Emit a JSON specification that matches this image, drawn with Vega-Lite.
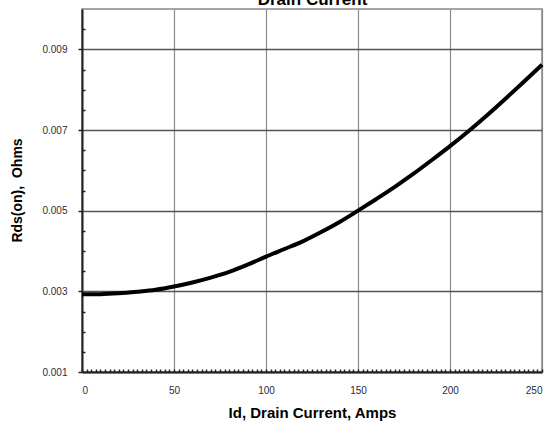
{
  "$schema": "https://vega.github.io/schema/vega-lite/v6.json",
  "autosize": "none",
  "width": 460,
  "height": 363,
  "padding": {"left": 82, "top": 9, "right": 11, "bottom": 58},
  "background": "white",
  "config": {
    "view": {"stroke": "#888", "strokeWidth": 1.5},
    "axis": {
      "labelFont": "Liberation Sans",
      "titleFont": "Liberation Sans",
      "labelColor": "#2a2a40",
      "titleColor": "#000"
    }
  },
  "data": {
    "values": [
      {"id": 0, "rds": 0.00293},
      {"id": 10, "rds": 0.00293},
      {"id": 20, "rds": 0.00295},
      {"id": 30, "rds": 0.00299},
      {"id": 40, "rds": 0.00304},
      {"id": 50, "rds": 0.00312},
      {"id": 60, "rds": 0.00322},
      {"id": 70, "rds": 0.00334},
      {"id": 80, "rds": 0.00348},
      {"id": 90, "rds": 0.00366},
      {"id": 100, "rds": 0.00386},
      {"id": 110, "rds": 0.00405},
      {"id": 120, "rds": 0.00424},
      {"id": 130, "rds": 0.00447},
      {"id": 140, "rds": 0.00472},
      {"id": 150, "rds": 0.00500},
      {"id": 160, "rds": 0.00529},
      {"id": 170, "rds": 0.00559},
      {"id": 180, "rds": 0.00591},
      {"id": 190, "rds": 0.00625},
      {"id": 200, "rds": 0.00660},
      {"id": 210, "rds": 0.00697},
      {"id": 220, "rds": 0.00736},
      {"id": 230, "rds": 0.00777},
      {"id": 240, "rds": 0.00819},
      {"id": 250, "rds": 0.00862}
    ]
  },
  "layer": [
    {
      "mark": {"type": "line", "color": "#000", "strokeWidth": 4, "interpolate": "monotone"},
      "encoding": {
        "x": {
          "field": "id", "type": "quantitative",
          "scale": {"domain": [0, 250], "nice": false, "zero": false},
          "axis": {
            "orient": "bottom",
            "values": [0, 50, 100, 150, 200, 250],
            "title": "Id, Drain Current, Amps",
            "titleFontSize": 15, "titleFontWeight": "bold",
            "titleY": 40, "titleBaseline": "middle",
            "labelFontSize": 10, "labelPadding": 18, "labelBaseline": "middle",
            "ticks": false,
            "grid": true, "gridColor": "#8a8a8a", "gridWidth": 1.2,
            "domainColor": "#222", "domainWidth": 2
          }
        },
        "y": {
          "field": "rds", "type": "quantitative",
          "scale": {"domain": [0.001, 0.010], "nice": false, "zero": false},
          "axis": {
            "orient": "left",
            "values": [0.001, 0.003, 0.005, 0.007, 0.009],
            "format": ".3f",
            "title": "Rds(on),\u00a0 Ohms",
            "titleFontSize": 14, "titleFontWeight": "bold",
            "titleX": -65, "titleY": 181, "titleAngle": -90,
            "titleAlign": "center", "titleBaseline": "middle",
            "labelFontSize": 10, "labelPadding": 11,
            "tickSize": 4, "tickColor": "#222", "tickWidth": 1.5,
            "grid": true, "gridColor": "#555", "gridWidth": 1.5,
            "domainColor": "#222", "domainWidth": 2
          }
        }
      }
    },
    {
      "mark": {"type": "line", "opacity": 0},
      "encoding": {
        "x": {
          "field": "id", "type": "quantitative",
          "scale": {"domain": [0, 250], "nice": false, "zero": false},
          "axis": {
            "orient": "bottom",
            "values": [0,2.5,5,7.5,10,12.5,15,17.5,20,22.5,25,27.5,30,32.5,35,37.5,40,42.5,45,47.5,50,52.5,55,57.5,60,62.5,65,67.5,70,72.5,75,77.5,80,82.5,85,87.5,90,92.5,95,97.5,100,102.5,105,107.5,110,112.5,115,117.5,120,122.5,125,127.5,130,132.5,135,137.5,140,142.5,145,147.5,150,152.5,155,157.5,160,162.5,165,167.5,170,172.5,175,177.5,180,182.5,185,187.5,190,192.5,195,197.5,200,202.5,205,207.5,210,212.5,215,217.5,220,222.5,225,227.5,230,232.5,235,237.5,240,242.5,245,247.5,250],
            "labels": false, "title": null, "grid": false, "domain": false,
            "tickSize": -3, "tickColor": "#222", "tickWidth": 1.5
          }
        },
        "y": {
          "field": "rds", "type": "quantitative",
          "scale": {"domain": [0.001, 0.010], "nice": false, "zero": false},
          "axis": {
            "orient": "left",
            "values": [0.0015, 0.002, 0.0025, 0.0035, 0.004, 0.0045, 0.0055, 0.006, 0.0065, 0.0075, 0.008, 0.0085, 0.0095],
            "labels": false, "title": null, "grid": false, "domain": false,
            "tickSize": -3, "tickColor": "#222", "tickWidth": 1.5
          }
        }
      }
    },
    {
      "mark": {"type": "line", "opacity": 0},
      "encoding": {
        "x": {
          "field": "id", "type": "quantitative",
          "scale": {"domain": [0, 250], "nice": false, "zero": false},
          "axis": {
            "orient": "top",
            "labels": false, "ticks": false, "domain": false, "grid": false,
            "title": "Drain Current",
            "titleFontSize": 17, "titleFontWeight": "bold",
            "titleX": 230, "titleY": -5,
            "titleAlign": "center", "titleBaseline": "alphabetic"
          }
        },
        "y": {
          "field": "rds", "type": "quantitative",
          "scale": {"domain": [0.001, 0.010], "nice": false, "zero": false},
          "axis": null
        }
      }
    }
  ],
  "resolve": {"axis": {"x": "independent", "y": "independent"}}
}
